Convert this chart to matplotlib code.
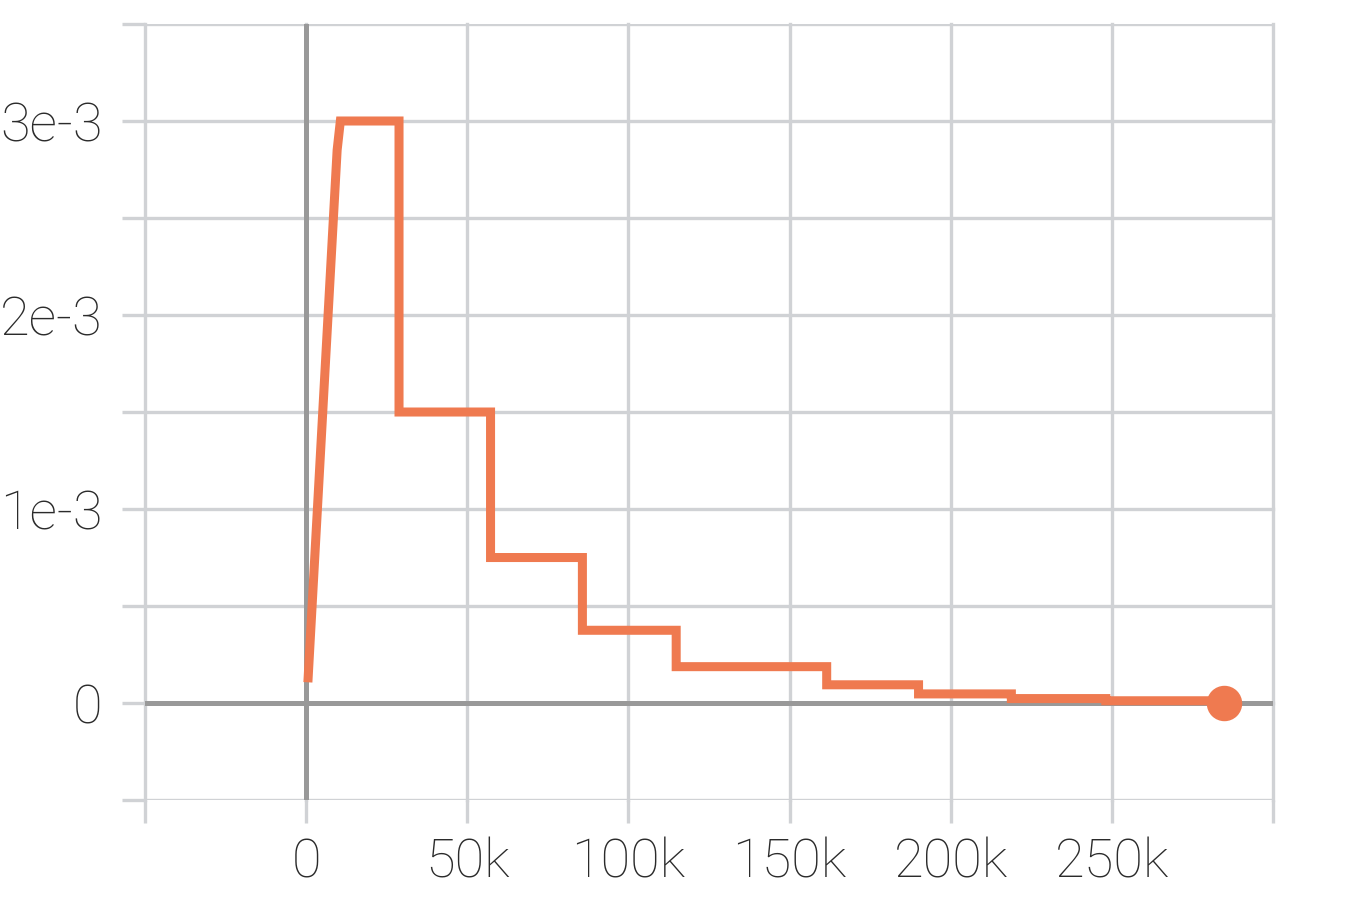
import numpy as np
import matplotlib.pyplot as plt
from matplotlib.ticker import FixedLocator, FuncFormatter

plt.rcParams['font.family'] = ['Roboto', 'DejaVu Sans']

# warmup part of the schedule (step, learning rate)
warm_steps = [600, 9600, 10600]
warm_lr = [0.13e-3, 2.85e-3, 3.0e-3]

# step decay part: level holds from boundary[i] to boundary[i+1]
bounds = [10600, 28800, 57200, 85700, 114800, 161500, 190000, 218800, 248100, 284700]
levels = [3.0e-3, 1.5e-3, 0.75e-3, 0.375e-3, 0.1875e-3, 0.094e-3, 0.047e-3, 0.023e-3, 0.0117e-3, 0.0]

xticks = [-50000, 0, 50000, 100000, 150000, 200000, 250000, 300000]
yticks = [0, 1e-3, 2e-3, 3e-3]
yminor = [-0.5e-3, 0.5e-3, 1.5e-3, 2.5e-3, 3.5e-3]

col = '#ef7a50'
grid_c = '#d0d2d5'
zero_c = '#999999'

fig = plt.figure(figsize=(13.62, 9.16), dpi=100)
ax = fig.add_axes([0.1065, 0.1266, 0.8282, 0.8472])

ax.set_xlim(-50000, 300000)
ax.set_ylim(-0.5e-3, 3.5e-3)

ax.xaxis.set_major_locator(FixedLocator(xticks))
ax.yaxis.set_major_locator(FixedLocator(yticks))
ax.yaxis.set_minor_locator(FixedLocator(yminor))

def xfmt(v, pos):
    if v <= -50000 or v >= 300000:
        return ''
    if v == 0:
        return '0'
    return '%dk' % (v / 1000)

def yfmt(v, pos):
    if abs(v) < 1e-9:
        return '0'
    return '%de-3' % round(v * 1000)

ax.xaxis.set_major_formatter(FuncFormatter(xfmt))
ax.yaxis.set_major_formatter(FuncFormatter(yfmt))

for s in ax.spines.values():
    s.set_visible(False)

ax.grid(True, which='both', color=grid_c, linewidth=2.4)
for l in ax.get_xgridlines() + ax.get_ygridlines():
    l.set_clip_on(False)
ax.set_axisbelow(True)

ax.tick_params(axis='both', which='both', color=grid_c, width=2.4, length=16.5)
ax.tick_params(axis='x', which='major', labelsize=39, labelcolor='#2b2b2b', pad=10)
ax.tick_params(axis='y', which='major', labelsize=39, labelcolor='#2b2b2b', pad=14)
for lab in ax.get_xticklabels() + ax.get_yticklabels():
    lab.set_fontweight('light')

ax.axhline(0, color=zero_c, linewidth=3.6, zorder=1.5)
ax.axvline(0, color=zero_c, linewidth=3.6, zorder=1.5)

xs = list(warm_steps)
ys = list(warm_lr)
for i in range(1, len(bounds)):
    xs += [bounds[i], bounds[i]]
    ys += [levels[i - 1], levels[i]]
ax.plot(xs, ys, color=col, linewidth=6.5, solid_joinstyle='miter', zorder=3)
ax.plot(bounds[-1], levels[-1], 'o', color=col, markersize=24.5, zorder=4)

fig.savefig('out.png', dpi=100)
